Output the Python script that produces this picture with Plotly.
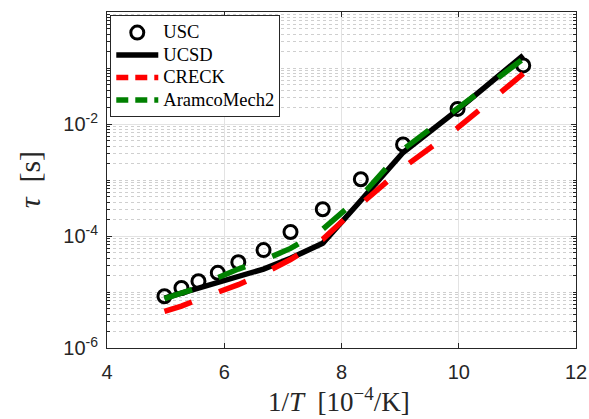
import plotly.graph_objects as go

inv_T = [4.98, 5.27, 5.56, 5.89, 6.24, 6.67, 7.13, 7.68, 8.33, 9.05, 9.98, 11.10]
tau_usc = [8.4e-6, 1.18e-5, 1.56e-5, 2.2e-5, 3.4e-5, 5.6e-5, 1.18e-4, 3.0e-4, 1.03e-3, 4.3e-3, 1.86e-2, 0.111]
tau_ucsd = [7.8e-6, 9.5e-6, 1.17e-5, 1.48e-5, 1.9e-5, 2.57e-5, 4.0e-5, 7.4e-5, 4.3e-4, 3.1e-3, 1.78e-2, 0.168]
tau_creck = [4.5e-6, 5.6e-6, 7.4e-6, 9.8e-6, 1.35e-5, 2.14e-5, 3.8e-5, 8.7e-5, 3.7e-4, 1.66e-3, 8.5e-3, 0.079]
tau_aramco = [7.6e-6, 9.3e-6, 1.2e-5, 1.8e-5, 2.57e-5, 3.7e-5, 6.0e-5, 1.32e-4, 5.1e-4, 3.5e-3, 1.95e-2, 0.146]

x_ticks = [4, 6, 8, 10, 12]
y_ticks = [1e-6, 1e-4, 1e-2, 1]
y_ticktext = ["10<sup>-6</sup>", "10<sup>-4</sup>", "10<sup>-2</sup>", "10<sup>0</sup>"]

AX = "#262626"
SANS = "Liberation Sans, Arial, sans-serif"
SERIF = "Liberation Serif, Times New Roman, serif"


def leg(name):
    return '<span style="font-size:18.5px">' + name + '</span>'


fig = go.Figure()

fig.add_trace(go.Scatter(x=inv_T, y=tau_usc, mode="markers", name="USC", showlegend=False,
                         marker=dict(symbol="circle-open", size=13, color="black", line=dict(width=3, color="black"))))
fig.add_trace(go.Scatter(x=inv_T, y=tau_ucsd, mode="lines", name="UCSD", showlegend=False,
                         line=dict(color="black", width=5.5)))
fig.add_trace(go.Scatter(x=inv_T, y=tau_creck, mode="lines", name="CRECK", showlegend=False,
                         line=dict(color="#ff0000", width=5.5, dash="29px,29px")))
fig.add_trace(go.Scatter(x=inv_T, y=tau_aramco, mode="lines", name="AramcoMech2", showlegend=False,
                         line=dict(color="#008000", width=5.5, dash="29px,29px")))

# legend entries (same styles, legend-sized dashes)
fig.add_trace(go.Scatter(x=[None], y=[None], mode="markers", name=leg("USC"),
                         marker=dict(symbol="circle-open", size=13, color="black", line=dict(width=3, color="black"))))
fig.add_trace(go.Scatter(x=[None], y=[None], mode="lines", name=leg("UCSD"),
                         line=dict(color="black", width=5.5)))
fig.add_trace(go.Scatter(x=[None], y=[None], mode="lines", name=leg("CRECK"),
                         line=dict(color="#ff0000", width=5.5, dash="12px,7px")))
fig.add_trace(go.Scatter(x=[None], y=[None], mode="lines", name=leg("AramcoMech2"),
                         line=dict(color="#008000", width=5.5, dash="12px,7px")))

fig.update_layout(
    width=589, height=419,
    margin=dict(l=107, r=13, t=12, b=71, autoexpand=False),
    paper_bgcolor="white", plot_bgcolor="white",
    showlegend=True,
    legend=dict(x=0.007, y=0.99, xanchor="left", yanchor="top",
                bgcolor="white", bordercolor=AX, borderwidth=1,
                font=dict(family=SERIF, size=15, color="black"),
                itemwidth=42, tracegroupgap=0, entrywidth=124, entrywidthmode="pixels"),
    xaxis=dict(range=[4, 12], tickvals=x_ticks, ticktext=[str(v) for v in x_ticks],
               ticks="inside", ticklen=5, tickcolor=AX, showline=True, linecolor=AX, linewidth=1,
               mirror="ticks", showgrid=True, gridcolor="#e3e3e3", gridwidth=1, zeroline=False,
               tickfont=dict(family=SANS, size=20, color=AX), ticklabelstandoff=6),
    yaxis=dict(type="log", range=[-6, 0], tickvals=y_ticks, ticktext=y_ticktext,
               ticks="inside", ticklen=5, tickcolor=AX, showline=True, linecolor=AX, linewidth=1,
               mirror="ticks", showgrid=True, gridcolor="#e3e3e3", gridwidth=1, zeroline=False,
               tickfont=dict(family=SANS, size=20, color=AX), ticklabelstandoff=4,
               minor=dict(dtick="D1", ticks="inside", ticklen=3, tickcolor=AX, showgrid=True,
                          gridcolor="#cfcfcf", griddash="dot", gridwidth=1)),
    annotations=[
        dict(text="1/<i>T</i>  [10<sup>−4</sup>/K]", xref="paper", yref="paper", x=0.495, y=-0.156,
             xanchor="center", yanchor="middle", showarrow=False,
             font=dict(family=SERIF, size=27, color=AX)),
        dict(text="<i>τ</i>  [s]", xref="paper", yref="paper", x=-0.1656, y=0.5, textangle=-90,
             xanchor="center", yanchor="middle", showarrow=False,
             font=dict(family=SERIF, size=30, color=AX)),
    ],
)

fig.write_html("out.html")
